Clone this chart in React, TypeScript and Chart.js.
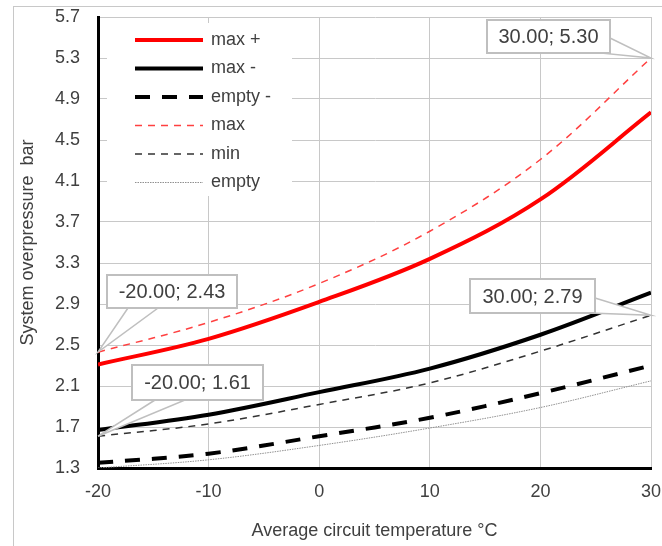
import React, { useEffect, useRef } from 'react';
import { Chart, registerables } from 'chart.js';

Chart.register(...registerables);

// ---- data ----
const temperatures = [-20, -10, 0, 10, 20, 30];
const maxPlusValues = [2.31, 2.56, 2.92, 3.34, 3.92, 4.77];
const maxMinusValues = [1.67, 1.82, 2.04, 2.27, 2.6, 3.01];
const emptyMinusValues = [1.35, 1.44, 1.61, 1.79, 2.03, 2.3];
const maxValues = [2.43, 2.72, 3.1, 3.61, 4.31, 5.3];
const minValues = [1.61, 1.73, 1.92, 2.13, 2.44, 2.79];
const emptyValues = [1.3, 1.38, 1.52, 1.69, 1.89, 2.15];

const seriesLabels = ['max +', 'max -', 'empty -', 'max', 'min', 'empty'];
const xTickValues = [-20, -10, 0, 10, 20, 30];
const yTickValues = [1.3, 1.7, 2.1, 2.5, 2.9, 3.3, 3.7, 4.1, 4.5, 4.9, 5.3, 5.7];

const xTitle = 'Average circuit temperature °C';
const yTitle = 'System overpressure  bar';

// data callouts: series label + point index
const calloutSeries = ['max', 'max', 'min', 'min'];
const calloutIndex = [5, 0, 0, 5];

// ---- layout / style ----
const W = 662;
const H = 546;
const FONT = '"Liberation Sans", Arial, sans-serif';
const TEXT = '#404040';
const GRID = '#c8c8c8';

const calloutLayout = [
  { box: [487, 20, 123, 33], base: [[610, 38], [600, 53]] },
  { box: [107, 275, 130, 33], base: [[128, 308], [158, 308]] },
  { box: [132, 365, 131, 35], base: [[155, 400], [185, 400]] },
  { box: [470, 279, 125, 34], base: [[595, 298], [590, 313]] },
];

const legendLayout = { x: 107, y: 23, w: 185, h: 173, rowY: 40, rowH: 28.5, lineX1: 135, lineX2: 203, textX: 211 };

const seriesValues = [maxPlusValues, maxMinusValues, emptyMinusValues, maxValues, minValues, emptyValues];
const seriesStyles = [
  { color: '#ff0000', width: 4, dash: [] as number[] },
  { color: '#000000', width: 4, dash: [] as number[] },
  { color: '#000000', width: 4, dash: [15, 12] },
  { color: '#ff4040', width: 1.5, dash: [7, 6] },
  { color: '#333333', width: 1.5, dash: [7, 6] },
  { color: '#909090', width: 1, dash: [1.5, 1] },
];

const legendPlugin = {
  id: 'customLegend',
  afterDatasetsDraw(chart: any) {
    const ctx = chart.ctx;
    const L = legendLayout;
    ctx.save();
    ctx.fillStyle = '#ffffff';
    ctx.fillRect(L.x, L.y, L.w, L.h);
    chart.data.datasets.forEach((ds: any, i: number) => {
      const y = L.rowY + i * L.rowH;
      ctx.beginPath();
      ctx.strokeStyle = ds.borderColor;
      ctx.lineWidth = ds.borderWidth;
      ctx.setLineDash(ds.borderDash || []);
      ctx.lineCap = 'butt';
      ctx.moveTo(L.lineX1, y);
      ctx.lineTo(L.lineX2, y);
      ctx.stroke();
      ctx.setLineDash([]);
      ctx.fillStyle = TEXT;
      ctx.font = `18px ${FONT}`;
      ctx.textAlign = 'left';
      ctx.textBaseline = 'middle';
      ctx.fillText(ds.label, L.textX, y);
    });
    ctx.restore();
  },
};

const calloutPlugin = {
  id: 'callouts',
  afterDraw(chart: any) {
    const ctx = chart.ctx;
    const xs = chart.scales.x;
    const ys = chart.scales.y;
    ctx.save();
    calloutSeries.forEach((name, k) => {
      const si = seriesLabels.indexOf(name);
      const idx = calloutIndex[k];
      const xv = temperatures[idx];
      const yv = seriesValues[si][idx];
      const px = xs.getPixelForValue(xv);
      const py = ys.getPixelForValue(yv);
      const lay = calloutLayout[k];
      const [bx, by, bw, bh] = lay.box;
      // wedge
      ctx.beginPath();
      ctx.moveTo(lay.base[0][0], lay.base[0][1]);
      ctx.lineTo(px, py);
      ctx.lineTo(lay.base[1][0], lay.base[1][1]);
      ctx.closePath();
      ctx.fillStyle = '#ffffff';
      ctx.fill();
      ctx.strokeStyle = '#bfbfbf';
      ctx.lineWidth = 1.5;
      ctx.setLineDash([]);
      ctx.stroke();
      // box
      ctx.fillStyle = '#ffffff';
      ctx.fillRect(bx, by, bw, bh);
      ctx.lineWidth = 2;
      ctx.strokeStyle = '#bfbfbf';
      ctx.strokeRect(bx, by, bw, bh);
      ctx.fillStyle = TEXT;
      ctx.font = `20px ${FONT}`;
      ctx.textAlign = 'center';
      ctx.textBaseline = 'middle';
      ctx.fillText(`${xv.toFixed(2)}; ${yv.toFixed(2)}`, bx + bw / 2, by + bh / 2 + 1);
    });
    ctx.restore();
  },
};

export default function App() {
  const ref = useRef<HTMLCanvasElement | null>(null);

  useEffect(() => {
    if (!ref.current) return;
    const datasets = seriesLabels.map((label, i) => ({
      label,
      data: temperatures.map((t, j) => ({ x: t, y: seriesValues[i][j] })),
      borderColor: seriesStyles[i].color,
      backgroundColor: seriesStyles[i].color,
      borderWidth: seriesStyles[i].width,
      borderDash: seriesStyles[i].dash,
      borderCapStyle: 'butt' as const,
      pointRadius: 0,
      pointHoverRadius: 0,
      tension: 0.35,
      fill: false,
    }));

    const chart = new Chart(ref.current, {
      type: 'line',
      data: { datasets },
      plugins: [legendPlugin, calloutPlugin],
      options: {
        animation: false,
        responsive: false,
        devicePixelRatio: 1,
        layout: { padding: { top: 17, right: 11, left: 0, bottom: 0 } },
        plugins: { legend: { display: false }, tooltip: { enabled: false } },
        scales: {
          x: {
            type: 'linear',
            min: -20,
            max: 30,
            afterFit: (s: any) => {
              s.height = H - 468;
              s.paddingLeft = 0;
              s.paddingRight = 0;
            },
            afterBuildTicks: (s: any) => {
              s.ticks = xTickValues.map((v) => ({ value: v }));
            },
            grid: {
              color: (c: any) => (c.index === 0 ? 'rgba(0,0,0,0)' : GRID),
              lineWidth: 1,
              drawTicks: false,
            },
            border: { display: true, color: '#000000', width: 3 },
            ticks: {
              color: TEXT,
              font: { family: FONT, size: 18 },
              padding: 13,
              maxRotation: 0,
              callback: (v: any) => String(v),
            },
            title: {
              display: true,
              text: xTitle,
              color: TEXT,
              font: { family: FONT, size: 18 },
              padding: { top: 0, bottom: 4 },
            },
          },
          y: {
            type: 'linear',
            min: 1.3,
            max: 5.7,
            afterFit: (s: any) => {
              s.width = 98;
              s.paddingTop = 0;
              s.paddingBottom = 0;
            },
            afterBuildTicks: (s: any) => {
              s.ticks = yTickValues.map((v) => ({ value: v }));
            },
            grid: {
              color: (c: any) => (c.index === 0 ? 'rgba(0,0,0,0)' : GRID),
              lineWidth: 1,
              drawTicks: false,
            },
            border: { display: true, color: '#000000', width: 3 },
            ticks: {
              color: TEXT,
              font: { family: FONT, size: 18 },
              padding: 18,
              callback: (v: any) => Number(v).toFixed(1),
            },
            title: {
              display: true,
              text: yTitle,
              color: TEXT,
              font: { family: FONT, size: 18 },
              padding: { top: 17, bottom: 0 },
            },
          },
        },
      },
    });
    return () => chart.destroy();
  }, []);

  return (
    <div style={{ position: 'fixed', left: 0, top: 0, width: W, height: H, overflow: 'hidden', background: '#ffffff' }}>
      <div
        style={{
          position: 'absolute',
          left: 13,
          top: 6,
          width: W,
          height: H,
          border: '1px solid #c8c8c8',
          boxSizing: 'border-box',
        }}
      />
      <canvas ref={ref} width={W} height={H} style={{ position: 'absolute', left: 0, top: 0, width: W, height: H }} />
    </div>
  );
}
